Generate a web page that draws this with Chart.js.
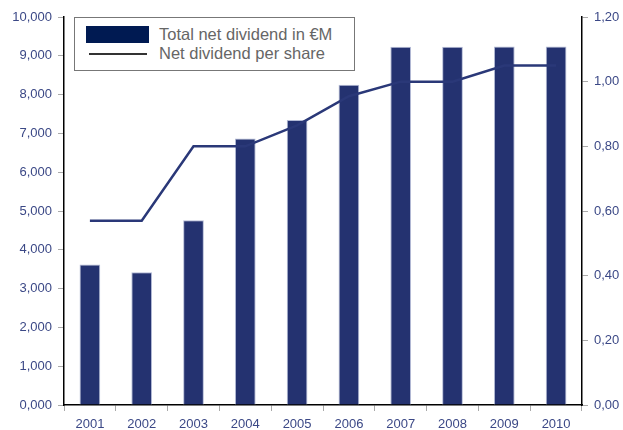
<!DOCTYPE html>
<html>
<head>
<meta charset="utf-8">
<title>Net dividend</title>
<style>
    html, body {
        margin: 0;
        padding: 0;
        background: #fff;
    }
    #wrap {
        position: relative;
        width: 623px;
        height: 430px;
    }
    #legend {
        position: absolute;
        left: 74px;
        top: 17px;
        width: 279px;
        height: 52px;
        border: 1px solid #777;
        background: #fff;
        font-family: "Liberation Sans", Arial, sans-serif;
        font-size: 16.5px;
        color: #666;
    }
    .row {
        position: absolute;
        left: 11px;
        height: 19px;
        display: flex;
        align-items: center;
    }
    .patch {
        width: 63px;
        height: 17px;
        background: #001a52;
        margin-right: 10px;
    }
    .lineSample {
        width: 58px;
        height: 2px;
        background: #333;
        margin: 0 12px 0 3px;
    }
</style>
<script src="https://cdn.jsdelivr.net/npm/chart.js"></script>
</head>
<body>
<div id="wrap">
    <canvas id="chart" width="623" height="430"></canvas>
    <div id="legend">
        <div class="row" style="top:7px"><span class="patch"></span>Total net dividend in €M</div>
        <div class="row" style="top:26px"><span class="lineSample"></span>Net dividend per share</div>
    </div>
</div>
<script>
    const years = ['2001', '2002', '2003', '2004', '2005', '2006', '2007', '2008', '2009', '2010'];
    const totalDividend = [3620, 3420, 4760, 6870, 7345, 8255, 9235, 9235, 9240, 9240];
    const dividendPerShare = [0.57, 0.57, 0.80, 0.80, 0.865, 0.955, 1.00, 1.00, 1.05, 1.05];

    const labelColor = '#3b4886';
    const tickFont = { family: '"Liberation Sans", Arial, sans-serif', size: 13 };

    const ctx = document.getElementById('chart').getContext('2d');
    new Chart(ctx, {
        data: {
            labels: years,
            datasets: [{
                type: 'line',
                data: dividendPerShare,
                yAxisID: 'y2',
                borderColor: '#2a3878',
                borderWidth: 2.5,
                pointRadius: 0,
                tension: 0,
                order: 0
            }, {
                type: 'bar',
                data: totalDividend,
                yAxisID: 'y',
                backgroundColor: '#243270',
                borderColor: '#b4bbd6',
                borderWidth: 1,
                categoryPercentage: 1,
                barPercentage: 0.4,
                order: 1
            }]
        },
        options: {
            responsive: false,
            animation: false,
            layout: { padding: { top: 17, left: 0, right: 0, bottom: 0 } },
            plugins: {
                legend: { display: false },
                tooltip: { enabled: false }
            },
            scales: {
                x: {
                    grid: { drawOnChartArea: false, offset: true, tickLength: 6, color: '#aaa' },
                    border: { color: '#000', width: 1.5 },
                    ticks: { color: labelColor, font: tickFont, padding: 6, maxRotation: 0 },
                    afterFit: function(scale) { scale.height = 25; }
                },
                y: {
                    position: 'left',
                    min: 0,
                    max: 10000,
                    grid: { drawOnChartArea: false, tickLength: 6, color: '#aaa' },
                    border: { color: '#000', width: 1.5 },
                    ticks: {
                        stepSize: 1000,
                        color: labelColor,
                        font: tickFont,
                        padding: 6,
                        callback: function(v) { return (v / 1000) + ',000'; }
                    },
                    afterFit: function(scale) { scale.width = 64; }
                },
                y2: {
                    position: 'right',
                    min: 0,
                    max: 1.2,
                    grid: { drawOnChartArea: false, tickLength: 6, color: '#aaa' },
                    border: { color: '#000', width: 1.5 },
                    ticks: {
                        stepSize: 0.2,
                        color: labelColor,
                        font: tickFont,
                        padding: 6,
                        callback: function(v) { return v.toFixed(2).replace('.', ','); }
                    },
                    afterFit: function(scale) { scale.width = 41; }
                }
            }
        }
    });
</script>
</body>
</html>
